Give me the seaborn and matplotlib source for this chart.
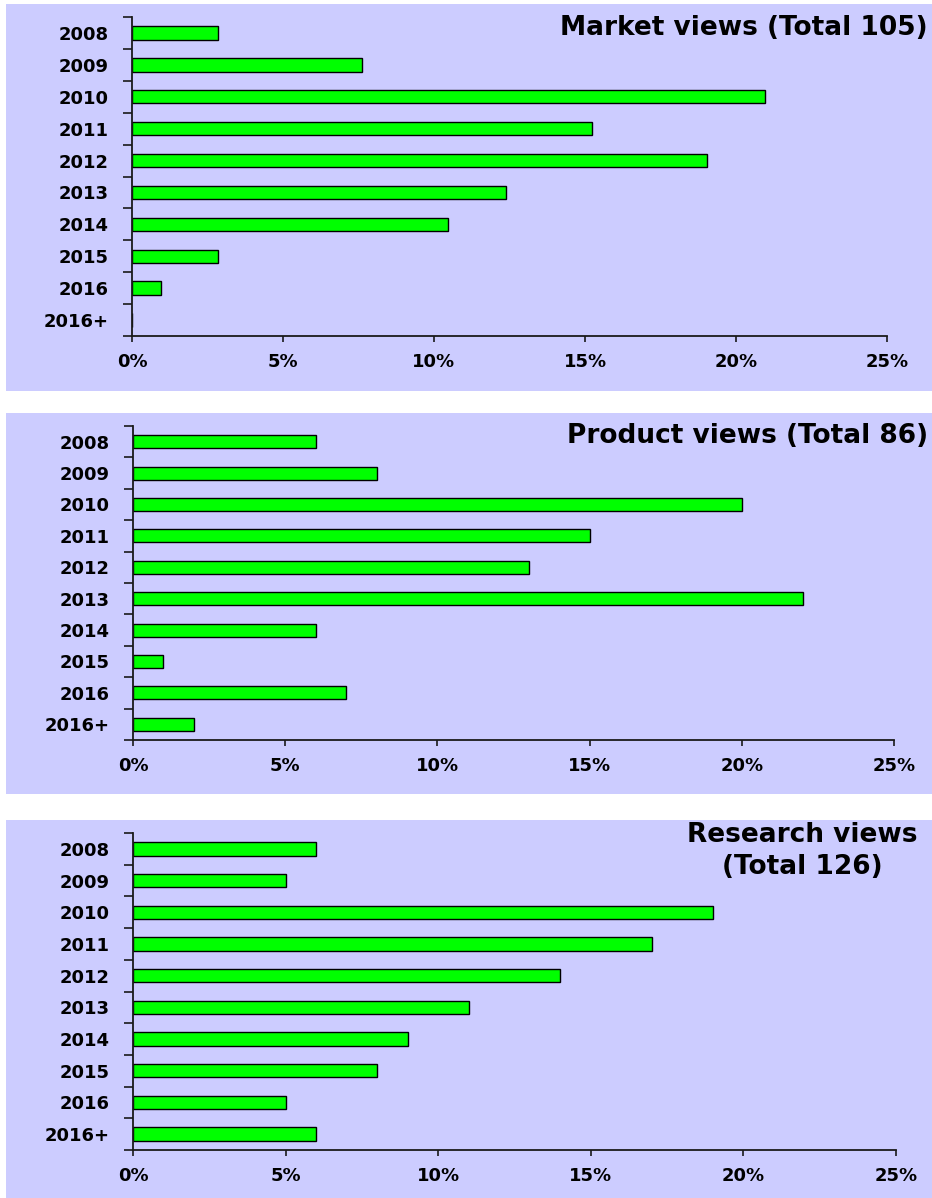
import numpy as np
import pandas as pd
import seaborn as sns
import matplotlib
matplotlib.use("Agg")
import matplotlib.pyplot as plt
from matplotlib.patches import Rectangle
from matplotlib.ticker import FixedLocator

# ---- data -------------------------------------------------------------
years = ["2008", "2009", "2010", "2011", "2012", "2013", "2014", "2015", "2016", "2016+"]

# share of respondents (%) per expected year
market_pct = [2.86, 7.62, 20.95, 15.24, 19.05, 12.38, 10.48, 2.86, 0.95, 0.0]
product_pct = [6, 8, 20, 15, 13, 22, 6, 1, 7, 2]
research_pct = [6, 5, 19, 17, 14, 11, 9, 8, 5, 6]

x_ticks = [0, 5, 10, 15, 20, 25]
x_tick_labels = ["0%", "5%", "10%", "15%", "20%", "25%"]

titles = ["Market views (Total 105)",
          "Product views (Total 86)",
          "Research views\n(Total 126)"]

# ---- styling ----------------------------------------------------------
sns.set_style("ticks")
plt.rcParams["font.family"] = ["DejaVu Sans"]

PANEL_BG = "#CCCCFF"
BAR_COLOR = "#00FF00"
AXIS_COLOR = "#1a1a1a"

W, H = 932, 1198
fig = plt.figure(figsize=(W / 100, H / 100), dpi=100)
fig.patch.set_facecolor("white")


def fig_rect(left, top, right, bottom):
    """Pixel box (origin top-left) -> figure-fraction rectangle."""
    return [left / W, 1 - bottom / H, (right - left) / W, (bottom - top) / H]


# panel backgrounds, axes boxes and title anchors (pixels)
panels = [
    dict(bg=(6, 4, 932, 391), ax=(132, 17, 887, 336), values=market_pct,
         title=titles[0], tx=928, ty=35, ha="right", va="baseline"),
    dict(bg=(6, 413, 932, 794), ax=(133, 426, 894, 740), values=product_pct,
         title=titles[1], tx=928, ty=443, ha="right", va="baseline"),
    dict(bg=(6, 820, 932, 1198), ax=(133, 833, 896, 1150), values=research_pct,
         title=titles[2], tx=802, ty=822, ha="center", va="top"),
]

for p in panels:
    l, t, r, b = p["bg"]
    fig.add_artist(Rectangle((l / W, 1 - b / H), (r - l) / W, (b - t) / H,
                             transform=fig.transFigure, facecolor=PANEL_BG,
                             edgecolor="none", zorder=0))

    ax = fig.add_axes(fig_rect(*p["ax"]))
    ax.set_facecolor("none")
    df = pd.DataFrame({"year": years, "pct": p["values"]})
    sns.barplot(data=df, x="pct", y="year", orient="h", order=years,
                color=BAR_COLOR, saturation=1, width=0.42,
                edgecolor="black", linewidth=1.0, ax=ax)

    ax.set_xlim(0, 25)
    ax.set_ylim(len(years) - 0.5, -0.5)
    ax.set_xlabel("")
    ax.set_ylabel("")
    ax.grid(False)

    for side in ("top", "right"):
        ax.spines[side].set_visible(False)
    for side in ("left", "bottom"):
        ax.spines[side].set_color(AXIS_COLOR)
        ax.spines[side].set_linewidth(1.3)

    ax.set_xticks(x_ticks)
    ax.set_xticklabels(x_tick_labels, fontsize=13, fontweight="bold")
    ax.tick_params(axis="x", which="major", length=4.3, width=1.2,
                   color=AXIS_COLOR, pad=8, labelcolor="black")

    ax.set_yticks(range(len(years)))
    ax.set_yticklabels(years, fontsize=13, fontweight="bold")
    ax.tick_params(axis="y", which="major", length=0, pad=17, labelcolor="black")
    ax.yaxis.set_minor_locator(FixedLocator(np.arange(-0.5, len(years), 1.0)))
    ax.tick_params(axis="y", which="minor", length=6.5, width=1.2,
                   color=AXIS_COLOR, direction="out")

    fig.text(p["tx"] / W, 1 - p["ty"] / H, p["title"], ha=p["ha"], va=p["va"],
             multialignment="center", fontsize=19, fontweight="bold",
             color="black", linespacing=1.3)

fig.savefig("out.png", dpi=100, facecolor="white")
